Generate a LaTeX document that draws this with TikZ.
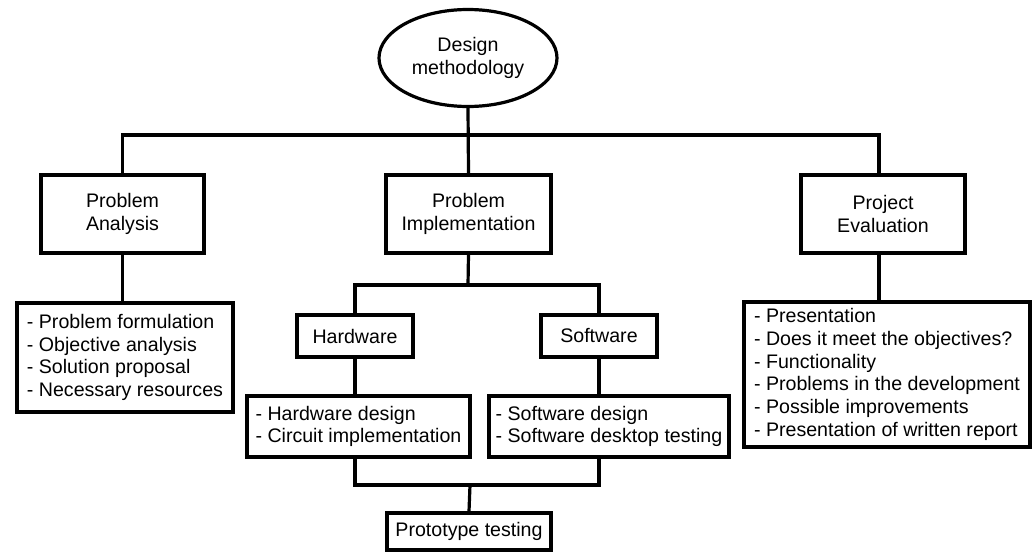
\documentclass[tikz,border=0pt]{standalone}
\usepackage{fontspec}
\setmainfont{Liberation Sans}
\usetikzlibrary{shapes.geometric}

\begin{document}
\begin{tikzpicture}[
        x=0.5pt,
        y=-0.5pt,
        font=\fontsize{9.8}{11.4}\selectfont,
        line width=1.6pt,
        box/.style={
            draw,
            rectangle,
            align=center,
            inner sep=2pt
        },
        listbox/.style={
            draw,
            rectangle,
            align=left,
            inner sep=2pt
        }
    ]

    \useasboundingbox (0,0) rectangle (1035,552);

    % Raiz
    \node[draw, ellipse, align=center, minimum width=89pt, minimum height=48.5pt] (dm) at (468,58) {Design\\methodology};

    % Primeiro nível
    \node[box, minimum width=81.5pt, minimum height=39pt] (pa) at (122.5,214) {Problem\\Analysis};
    \node[box, minimum width=82.5pt, minimum height=39pt] (pi) at (468.5,214) {Problem\\Implementation};
    \node[box, minimum width=82pt, minimum height=39pt] (pe) at (883,214) {Project\\Evaluation};

    % Listas
    \node[listbox, minimum width=108pt, minimum height=54.5pt] (palist) at (125,357.5) {- Problem formulation\\- Objective analysis\\- Solution proposal\\- Necessary resources};
    \node[listbox, minimum width=143pt, minimum height=72.5pt] (pelist) at (887,374.5) {- Presentation\\- Does it meet the objectives?\\- Functionality\\- Problems in the development\\- Possible improvements\\- Presentation of written report};

    % Hardware e software
    \node[box, minimum width=58pt, minimum height=21pt] (hw) at (355,336) {Hardware};
    \node[box, minimum width=58pt, minimum height=21pt] (sw) at (599,336) {Software};
    \node[listbox, minimum width=111.5pt, minimum height=30.5pt] (hwlist) at (358.5,426.5) {- Hardware design\\- Circuit implementation};
    \node[listbox, minimum width=120pt, minimum height=30.5pt] (swlist) at (609,426.5) {- Software design\\- Software desktop testing};

    \node[box, minimum width=82pt, minimum height=18.5pt] (proto) at (469,531.5) {Prototype testing};

    % Barramentos
    \coordinate (topbus) at (468,135);
    \coordinate (midbus) at (468,285);
    \coordinate (lowbus) at (470,485);

    % Ligações
    \draw (dm.south) -- (pi.north);
    \draw (pa.north) |- (topbus) -| ([xshift=-2pt]pe.north);
    \draw (pa.south) -- (pa.south |- palist.north);
    \draw ([xshift=-2pt]pe.south) -- ([xshift=-2pt]pe.south |- pelist.north);

    \draw (pi.south) -- (midbus);
    \draw (hw.north) |- (midbus) -| (sw.north);
    \draw (hw.south) -- (hw.south |- hwlist.north);
    \draw (sw.south) -- (sw.south |- swlist.north);

    \draw (hw.south |- hwlist.south) |- (lowbus) -| (sw.south |- swlist.south);
    \draw (lowbus) -- (proto.north);

\end{tikzpicture}
\end{document}
